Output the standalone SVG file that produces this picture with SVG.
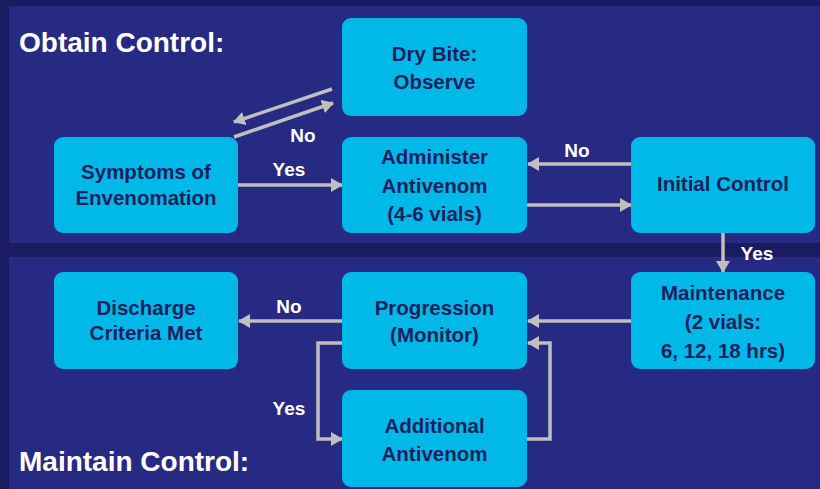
<svg xmlns="http://www.w3.org/2000/svg" width="820" height="489" viewBox="0 0 820 489">
<defs>
<style>
.panel{fill:#272a82}
.box{fill:#00b9e8}
.t{font-family:"Liberation Sans",Arial,sans-serif;font-weight:bold;font-size:20.5px;fill:#1b1f5c;text-anchor:middle}
.title{font-family:"Liberation Sans",Arial,sans-serif;font-weight:bold;font-size:28px;fill:#ffffff}
.lbl{font-family:"Liberation Sans",Arial,sans-serif;font-weight:bold;font-size:19px;fill:#ffffff;text-anchor:middle}
.c{fill:none;stroke:#bfbfbf;stroke-width:3.5;marker-end:url(#ah)}
</style>
<marker id="ah" markerUnits="userSpaceOnUse" markerWidth="12" markerHeight="14" viewBox="0 0 12 14" refX="11" refY="7" orient="auto">
<path d="M0,0 L12,7 L0,14 Z" fill="#bfbfbf"/>
</marker>
</defs>
<rect x="0" y="0" width="820" height="489" fill="#1b1b62"/>
<rect class="panel" x="9" y="6" width="811" height="237"/>
<rect class="panel" x="9" y="257" width="811" height="232"/>
<text class="title" x="19" y="52">Obtain Control:</text>
<text class="title" x="19" y="471">Maintain Control:</text>

<g id="connectors">
<path class="c" d="M332,89 L234,122"/>
<path class="c" d="M234,137 L333,103"/>
<path class="c" d="M238,185 L342,185"/>
<path class="c" d="M631,164 L528,164"/>
<path class="c" d="M527,205 L631,205"/>
<path class="c" d="M723,233 L723,272"/>
<path class="c" d="M631,321 L528,321"/>
<path class="c" d="M342,321 L239,321"/>
<path class="c" d="M342,343 L318,343 L318,439 L342,439"/>
<path class="c" d="M527,439 L550,439 L550,343 L528,343"/>
<text class="lbl" x="303" y="142">No</text>
<text class="lbl" x="289" y="176">Yes</text>
<text class="lbl" x="577" y="157">No</text>
<text class="lbl" x="757" y="260">Yes</text>
<text class="lbl" x="289" y="313">No</text>
<text class="lbl" x="289" y="415">Yes</text>
</g>

<g id="dry-bite">
<rect class="box" x="342" y="18" width="185" height="98" rx="9"/>
<text class="t" x="434.5" y="61">Dry Bite:</text>
<text class="t" x="434.5" y="89">Observe</text>
</g>
<g id="symptoms">
<rect class="box" x="54" y="137" width="184" height="96" rx="9"/>
<text class="t" x="146" y="179">Symptoms of</text>
<text class="t" x="146" y="205">Envenomation</text>
</g>
<g id="administer">
<rect class="box" x="342" y="137" width="185" height="96" rx="9"/>
<text class="t" x="434.5" y="164">Administer</text>
<text class="t" x="434.5" y="193">Antivenom</text>
<text class="t" x="434.5" y="221">(4-6 vials)</text>
</g>
<g id="initial-control">
<rect class="box" x="631" y="137" width="184" height="96" rx="9"/>
<text class="t" x="723" y="191">Initial Control</text>
</g>
<g id="discharge">
<rect class="box" x="54" y="272" width="184" height="97" rx="9"/>
<text class="t" x="146" y="315">Discharge</text>
<text class="t" x="146" y="340">Criteria Met</text>
</g>
<g id="progression">
<rect class="box" x="342" y="272" width="185" height="97" rx="9"/>
<text class="t" x="434.5" y="315">Progression</text>
<text class="t" x="434.5" y="342">(Monitor)</text>
</g>
<g id="maintenance">
<rect class="box" x="631" y="272" width="184" height="97" rx="9"/>
<text class="t" x="723" y="300">Maintenance</text>
<text class="t" x="723" y="329">(2 vials:</text>
<text class="t" x="723" y="358">6, 12, 18 hrs)</text>
</g>
<g id="additional">
<rect class="box" x="342" y="390" width="185" height="97" rx="9"/>
<text class="t" x="434.5" y="433">Additional</text>
<text class="t" x="434.5" y="461">Antivenom</text>
</g>
</svg>
